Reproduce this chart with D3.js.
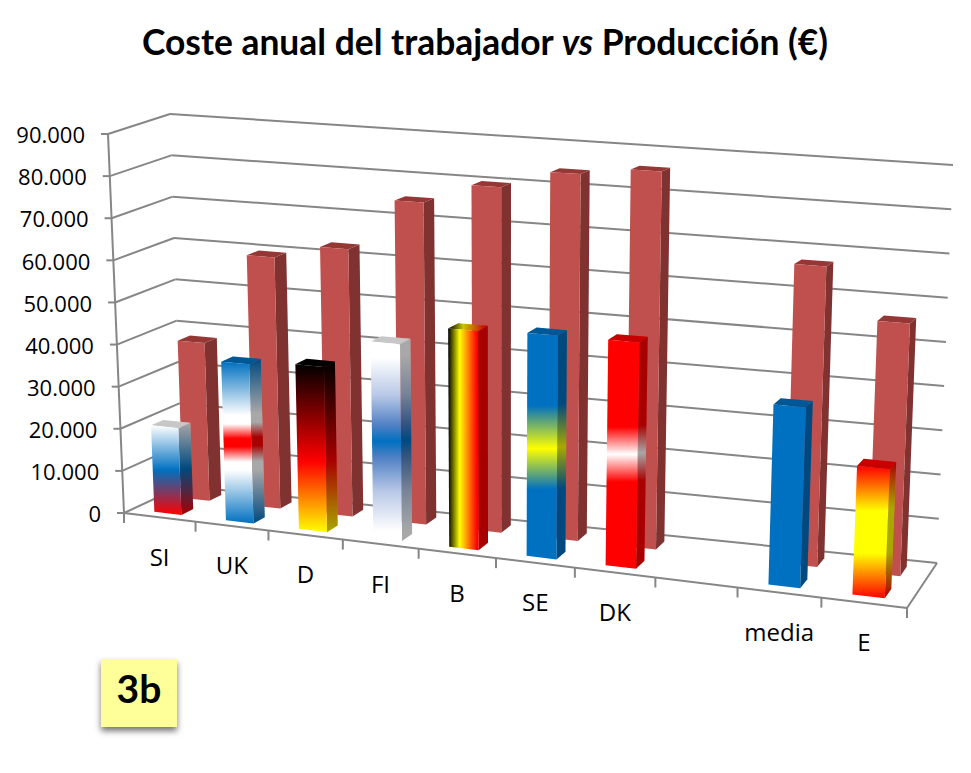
<!DOCTYPE html>
<html><head><meta charset="utf-8">
<script src="https://cdn.jsdelivr.net/npm/d3@7/dist/d3.min.js"></script>
<style>html,body{margin:0;padding:0;background:#fff}svg{display:block}</style>
</head><body><svg id="c" width="971" height="773"></svg>
<script>
// ---- data ----
const categories = ["SI","UK","D","FI","B","SE","DK","","media","E"];
const costeAnual = [20500,37200,38200,45000,49500,50000,50000,null,39000,27500];
const produccion = [37700,59500,62800,75000,79800,84000,85800,null,67000,55800];
const yTicks = [0,10000,20000,30000,40000,50000,60000,70000,80000,90000];
const rows = ["coste","produccion"];
// ---- bar fills (styles) ----
const B="#0070c0",R="#ff0000",W="#ffffff",Y="#ffff00",K="#000000";
const flagFills = {
  SI:{stops:[[0,W],[.5,B],[1,R]]},
  UK:{stops:[[0,B],[.33,W],[.385,W],[.475,R],[.525,R],[.62,W],[.67,W],[1,B]]},
  D:{stops:[[0,K],[.58,R],[1,Y]]},
  FI:{stops:[[0,W],[.08,W],[.27,"#b8c8e6"],[.42,"#4f80c4"],[.5,B],[.58,"#4f80c4"],[.75,"#b8c8e6"],[.95,W],[1,W]]},
  B:{stops:[[0,K],[.38,Y],[.95,R],[1,R]],horizontal:true,side:R},
  SE:{stops:[[0,B],[.32,B],[.51,Y],[.69,B],[1,B]]},
  DK:{stops:[[0,R],[.38,R],[.5,W],[.62,R],[1,R]]},
  media:{stops:[[0,B],[1,B]]},
  E:{stops:[[0,R],[.34,Y],[.66,Y],[1,R]]}
};
// ---- scene frame: screen position of the chart box ----
const frontFloorL=[124,513], frontTopL=[108,134], frontFloorR=[907,608], frontTopR=[925,180];
const backFloorL=[182,486], backTopL=[170,114], backFloorR=[937,563], backTopR=[953,165];

const svg=d3.select("#c");
const defs=svg.append("defs");
const lerp=(a,b,t)=>[a[0]+(b[0]-a[0])*t,a[1]+(b[1]-a[1])*t];
const persp=0.905;
const uPersp=u=>persp*u/(1+(persp-1)*u);
const x=d3.scaleBand().domain(d3.range(categories.length)).range([0,1]).paddingInner(.62).paddingOuter(.31).align(.5);
const xEdge=d3.scaleLinear().domain([0,categories.length]).range([0,1]);
const y=d3.scaleLinear().domain([0,90000]).range([0,1]);
const z=d3.scaleBand().domain(rows).range([0,1]).paddingInner(.58).paddingOuter(.29);
function project(u,v,d){
  const t=uPersp(u);
  const f=lerp(lerp(frontFloorL,frontFloorR,t),lerp(frontTopL,frontTopR,t),v);
  const b=lerp(lerp(backFloorL,backFloorR,t),lerp(backTopL,backTopR,t),v);
  return lerp(f,b,d);
}
const poly=d3.line();
const grid="#868686";
function seg(p,q,w=2){svg.append("line").attr("x1",p[0]).attr("y1",p[1]).attr("x2",q[0]).attr("y2",q[1]).attr("stroke",grid).attr("stroke-width",w);}

// gridlines and walls
yTicks.forEach(t=>{
  const v=y(t);
  seg(project(0,v,0),project(0,v,1));
  seg(project(0,v,1),project(1,v,1));
  const p=project(0,v,0);
  seg([p[0]-7,p[1]],p);
});
seg(project(0,0,0),project(0,1,0));
seg(project(0,0,0),project(1,0,0));
seg(project(1,0,0),project(1,0,1));
d3.range(categories.length+1).forEach(i=>{
  const p=project(xEdge(i),0,0);
  seg(p,[p[0],p[1]+10]);
});

// bars
function bar(i,val,row,front,side,top,topOverlay,sideOverlay){
  const u0=x(i),u1=u0+x.bandwidth(),d0=z(row),d1=d0+z.bandwidth(),v=y(val);
  const g=svg.append("g");
  const F=(a,fill,op)=>g.append("path").attr("d",poly(a)+"Z").attr("fill",fill).attr("fill-opacity",op==null?1:op);
  const sideP=[project(u1,0,d0),project(u1,v,d0),project(u1,v,d1),project(u1,0,d1)];
  const topP=[project(u0,v,d0),project(u1,v,d0),project(u1,v,d1),project(u0,v,d1)];
  const frontP=[project(u0,0,d0),project(u1,0,d0),project(u1,v,d0),project(u0,v,d0)];
  F(sideP,side); if(sideOverlay) F(sideP,"#000",sideOverlay);
  F(topP,top); if(topOverlay) F(topP,"#000",topOverlay);
  F(frontP,front);
}
categories.forEach((c,i)=>{
  if(produccion[i]==null) return;
  bar(i,produccion[i],"produccion","#c0504d","#7f3230","#953735");
});
categories.forEach((c,i)=>{
  if(costeAnual[i]==null) return;
  const f=flagFills[c], id="grad"+i;
  const lg=defs.append("linearGradient").attr("id",id).attr("x1",0).attr("y1",0)
    .attr("x2",f.horizontal?1:0).attr("y2",f.horizontal?0:1);
  f.stops.forEach(s=>lg.append("stop").attr("offset",s[0]).attr("stop-color",s[1]));
  const url=`url(#${id})`;
  bar(i,costeAnual[i],"coste",url,f.side||url,f.horizontal?url:f.stops[0][1],.22,.34);
});

// text
const fmt=d3.formatLocale({decimal:",",thousands:".",grouping:[3],currency:["","€"]}).format(",d");
const labelFont="'Open Sans',sans-serif";
yTicks.forEach(t=>{
  const p=project(0,y(t),0);
  svg.append("text").attr("x",p[0]-23).attr("y",p[1]).attr("dy","0.42em")
    .attr("text-anchor","end").attr("font-family",labelFont).attr("font-size",22).attr("fill","#000").text(fmt(t));
});
categories.forEach((c,i)=>{
  if(!c) return;
  const p=project(xEdge(i+.5),0,0);
  svg.append("text").attr("x",p[0]).attr("y",p[1]+40).attr("dy","0.35em")
    .attr("text-anchor","middle").attr("font-family",labelFont).attr("font-size",24).attr("fill","#000").text(c);
});
const title=svg.append("text").attr("x",485).attr("y",55).attr("text-anchor","middle")
  .attr("font-family","Lato,sans-serif").attr("font-weight",700).attr("font-size",35.4).attr("fill","#000");
title.append("tspan").text("Coste anual del trabajador ");
title.append("tspan").attr("font-style","italic").text("vs");
title.append("tspan").text(" Producción (€)");

// tag
const fl=defs.append("filter").attr("id","sh").attr("x","-20%").attr("y","-20%").attr("width","140%").attr("height","150%");
fl.append("feDropShadow").attr("dx",0).attr("dy",4).attr("stdDeviation",3).attr("flood-color","#000").attr("flood-opacity",.55);
svg.append("rect").attr("x",101).attr("y",659).attr("width",76).attr("height",68).attr("fill","#ffff99").attr("filter","url(#sh)");
svg.append("text").attr("x",139).attr("y",703).attr("text-anchor","middle").attr("font-family","Lato,sans-serif")
  .attr("font-weight",700).attr("font-size",39).attr("fill","#000").text("3b");
</script></body></html>
